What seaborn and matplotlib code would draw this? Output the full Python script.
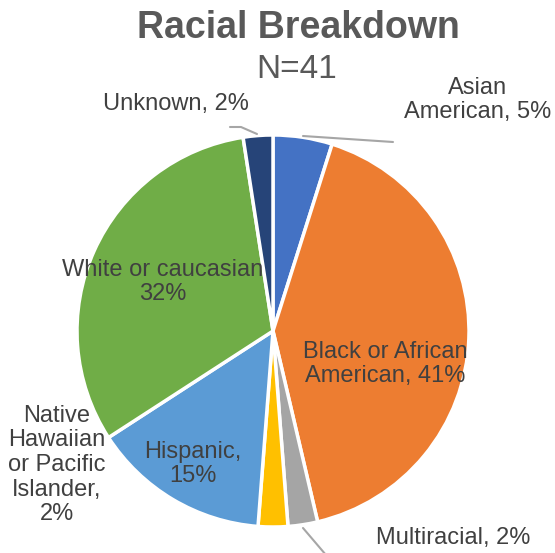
import matplotlib
matplotlib.use('Agg')
import matplotlib.pyplot as plt
import seaborn as sns

# data: counts out of N=41
groups = ['Asian American', 'Black or African American', 'Multiracial',
          'Native Hawaiian or Pacific Islander', 'Hispanic',
          'White or caucasian', 'Unknown']
counts = [2, 17, 1, 1, 6, 13, 1]
label_texts = ['Asian\nAmerican, 5%', 'Black or African\nAmerican, 41%',
               'Multiracial, 2%', 'Native\nHawaiian\nor Pacific\nIslander,\n2%',
               'Hispanic,\n15%', 'White or caucasian\n32%', 'Unknown, 2%']
colors = ['#4472C4', '#ED7D31', '#A5A5A5', '#FFC000', '#5B9BD5', '#70AD47', '#264478']

sns.set_style('white')
plt.rcParams['font.family'] = ['Liberation Sans', 'DejaVu Sans']

W, H = 555, 553
fig = plt.figure(figsize=(W / 100, H / 100), dpi=100)
ax = fig.add_axes([0, 0, 1, 1])

# pie in pixel-like coordinates (y up)
cx, cy, r = 273, H - 331, 196
ax.pie(counts, colors=colors, startangle=90, counterclock=False,
       center=(cx, cy), radius=r,
       wedgeprops=dict(edgecolor='white', linewidth=2.5))

ax.set_xlim(0, W)
ax.set_ylim(0, H)
ax.set_aspect('equal')
ax.axis('off')

# label positions (pixel coords from top-left)
label_pos = [(478, 100), (385, 364), (453, 538), (57, 465),
             (193, 464), (163, 282), (176, 104)]
for txt, (x, y) in zip(label_texts, label_pos):
    ax.text(x, H - y, txt, ha='center', va='center', multialignment='center',
            fontsize=17, color='#404040', linespacing=1.15)

# leader lines
line_col = '#A6A6A6'
ax.plot([303, 393], [H - 136, H - 142], color=line_col, lw=1.5)
ax.plot([230, 241, 257], [H - 127, H - 127, H - 134], color=line_col, lw=1.5)
ax.plot([303, 326], [H - 528, H - 555], color=line_col, lw=1.5, clip_on=False)

# title
ax.text(298, H - 28, 'Racial Breakdown', ha='center', va='center',
        fontsize=27, fontweight='bold', color='#595959')
ax.text(297, H - 70, 'N=41', ha='center', va='center',
        fontsize=24, color='#595959')

fig.savefig('out.png', dpi=100)
